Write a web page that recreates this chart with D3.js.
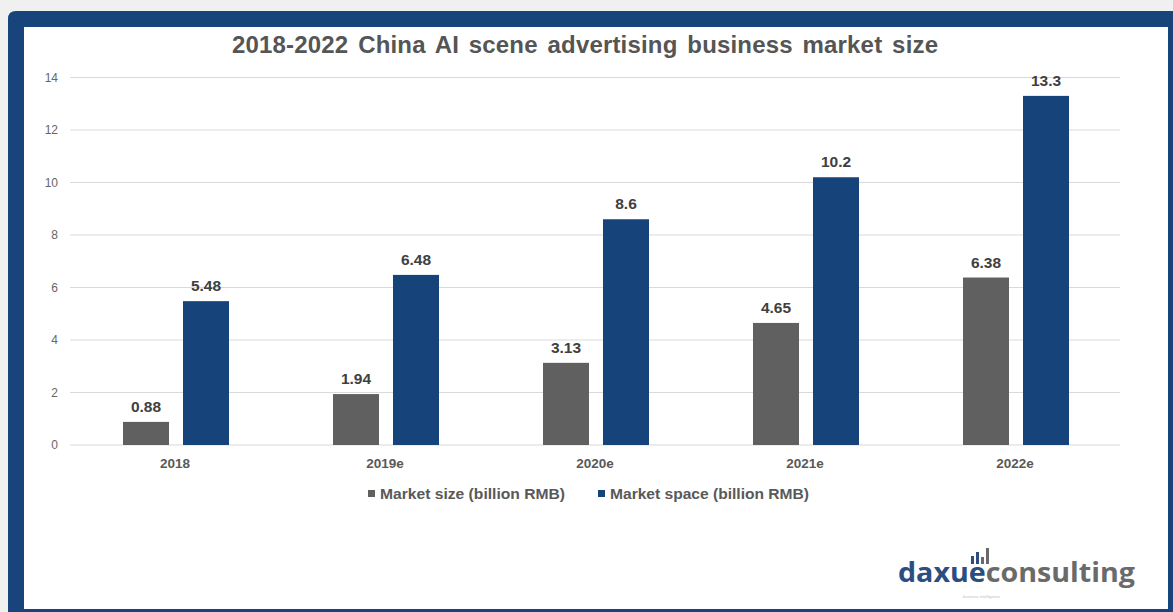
<!DOCTYPE html>
<html>
<head>
<meta charset="utf-8">
<script src="https://cdn.jsdelivr.net/npm/d3@7"></script>
<style>
  body { margin:0; background:#f0f0f0; }
  svg { display:block; }
</style>
</head>
<body>
<svg id="chart"></svg>
<script>
// data
var years = ["2018", "2019e", "2020e", "2021e", "2022e"];
var marketSize = [0.88, 1.94, 3.13, 4.65, 6.38];
var marketSpace = [5.48, 6.48, 8.6, 10.2, 13.3];
var sizeLabels = ["0.88", "1.94", "3.13", "4.65", "6.38"];
var spaceLabels = ["5.48", "6.48", "8.6", "10.2", "13.3"];
var yTicks = [0, 2, 4, 6, 8, 10, 12, 14];
var seriesNames = ["Market size (billion RMB)", "Market space (billion RMB)"];
var seriesColors = ["#606060", "#17437b"];

var screen = {width:1173, height:612};
var svg = d3.select("#chart")
    .attr("width", screen.width)
    .attr("height", screen.height);

// frame
svg.append("path")
    .attr("d", "M8,19 Q8,11 16,11 L1173,11 L1173,612 L8,612 Z")
    .attr("fill", "#17457b");
svg.append("rect")
    .attr("x", 24).attr("y", 27)
    .attr("width", 1144).attr("height", 582)
    .attr("fill", "#ffffff");

// title
svg.append("text")
    .attr("x", 232).attr("y", 53)
    .attr("font-family", "Liberation Sans, Arial, sans-serif")
    .attr("font-weight", "bold")
    .attr("font-size", 24)
    .attr("textLength", 706)
    .attr("lengthAdjust", "spacing")
    .attr("word-spacing", 3)
    .attr("fill", "#555555")
    .text("2018-2022 China AI scene advertising business market size");

var xScale = d3.scaleBand()
    .domain(years)
    .range([70, 1120]);
var yScale = d3.scaleLinear()
    .domain([0, 14])
    .range([445, 77.5]);

// grid
svg.append("g")
    .selectAll("line")
    .data(yTicks)
    .enter()
    .append("line")
    .attr("x1", 70).attr("x2", 1120)
    .attr("y1", function(d){ return yScale(d); })
    .attr("y2", function(d){ return yScale(d); })
    .attr("stroke", "#d9d9d9")
    .attr("stroke-width", 1);

// y axis labels
var yAxis = d3.axisLeft(yScale).tickValues(yTicks).tickSize(0).tickPadding(0);
var yg = svg.append("g")
    .attr("transform", "translate(58,0)")
    .call(yAxis);
yg.select(".domain").remove();
yg.selectAll("text")
    .attr("font-family", "Liberation Sans, Arial, sans-serif")
    .attr("font-size", 12)
    .attr("fill", "#666666");

// x axis labels
var xAxis = d3.axisBottom(xScale).tickSize(0).tickPadding(0);
var xg = svg.append("g")
    .attr("transform", "translate(0,458)")
    .call(xAxis);
xg.select(".domain").remove();
xg.selectAll("text")
    .attr("font-family", "Liberation Sans, Arial, sans-serif")
    .attr("font-weight", "bold")
    .attr("font-size", 13.5)
    .attr("fill", "#595959");

var barW = 46;
var drawSeries = function(values, labels, offset, color)
{
    var g = svg.append("g");
    g.selectAll("rect")
        .data(values)
        .enter()
        .append("rect")
        .attr("x", function(d, i){ return xScale(years[i]) + xScale.bandwidth()/2 + offset - barW/2; })
        .attr("y", function(d){ return yScale(d); })
        .attr("width", barW)
        .attr("height", function(d){ return yScale(0) - yScale(d); })
        .attr("fill", color);
    g.selectAll("text")
        .data(values)
        .enter()
        .append("text")
        .attr("x", function(d, i){ return xScale(years[i]) + xScale.bandwidth()/2 + offset; })
        .attr("y", function(d){ return yScale(d) - 10; })
        .attr("text-anchor", "middle")
        .attr("font-family", "Liberation Sans, Arial, sans-serif")
        .attr("font-weight", "bold")
        .attr("font-size", 15.5)
        .attr("fill", "#404040")
        .text(function(d, i){ return labels[i]; });
}
drawSeries(marketSize, sizeLabels, -29, seriesColors[0]);
drawSeries(marketSpace, spaceLabels, 31, seriesColors[1]);

// legend
var legendX = [368, 598];
var legendW = [185, 199];
seriesNames.forEach(function(name, i)
{
    svg.append("rect")
        .attr("x", legendX[i]).attr("y", 490)
        .attr("width", 7).attr("height", 7)
        .attr("fill", seriesColors[i]);
    svg.append("text")
        .attr("x", legendX[i] + 12).attr("y", 499)
        .attr("font-family", "Liberation Sans, Arial, sans-serif")
        .attr("font-weight", "bold")
        .attr("font-size", 14)
        .attr("textLength", legendW[i])
        .attr("lengthAdjust", "spacingAndGlyphs")
        .attr("fill", "#595959")
        .text(name);
});

// logo
var logoBars = [[971, 556], [976, 552], [981, 557], [986, 548]];
svg.append("g").selectAll("rect")
    .data(logoBars)
    .enter()
    .append("rect")
    .attr("x", function(d){ return d[0]; })
    .attr("y", function(d){ return d[1]; })
    .attr("width", 3)
    .attr("height", function(d){ return 564 - d[1]; })
    .attr("fill", function(d, i){ return i < 2 ? "#2c4d80" : "#6a6a6a"; });
var logo = svg.append("text")
    .attr("x", 898).attr("y", 582)
    .attr("font-family", "Open Sans, sans-serif")
    .attr("font-weight", "bold")
    .attr("font-size", 26)
    .attr("textLength", 237)
    .attr("lengthAdjust", "spacingAndGlyphs");
logo.append("tspan").attr("fill", "#2c4d80").text("daxue");
logo.append("tspan").attr("fill", "#6a6a6a").text("consulting");
svg.append("text")
    .attr("x", 963).attr("y", 598)
    .attr("font-family", "Liberation Sans, Arial, sans-serif")
    .attr("font-size", 4)
    .attr("fill", "#c0c0c0")
    .text("business intelligence");
</script>
</body>
</html>
